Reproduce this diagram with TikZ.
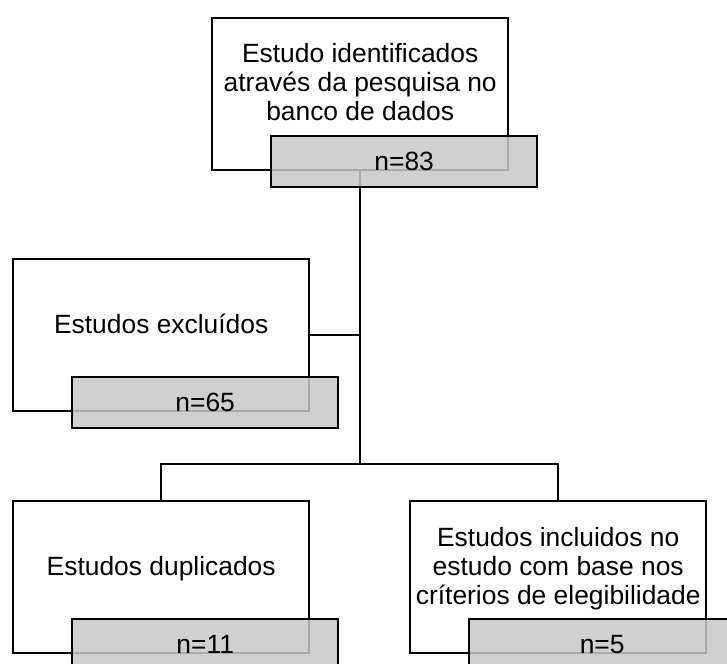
\documentclass[tikz,border=0pt]{standalone}
\usepackage{fontspec}
\setmainfont{Liberation Sans}
\usetikzlibrary{calc}
\definecolor{boxgray}{RGB}{200,200,200}
\newcommand\bigfont{\fontsize{26.4}{29}\selectfont}
\begin{document}
\begin{tikzpicture}[x=1pt,y=-1pt,
  whitebox/.style={draw,line width=2.4pt,fill=white,minimum width=296pt,minimum height=152pt,inner sep=0pt,anchor=north west},
  graybox/.style={draw,line width=2.4pt,fill=boxgray,fill opacity=0.85,text opacity=1,minimum width=266pt,minimum height=51pt,inner sep=0pt,anchor=north west,font=\bigfont},
  boxtext/.style={align=center,anchor=base,inner sep=0pt,font=\bigfont},
  conn/.style={line width=2.4pt}]
\useasboundingbox (0,0) rectangle (727,663);
\clip (0,0) rectangle (727,663);
% white boxes
\node[whitebox] (top) at (211,17) {};
\node[whitebox] (excl) at (12,258) {};
\node[whitebox] (dup) at (12,500) {};
\node[whitebox] (incl) at (409,500) {};
% texts (base anchor = baseline of the last line)
\node[boxtext] (toptxt) at ($(top.north)+(0,104)$) {Estudo identificados\\através da pesquisa no\\banco de dados};
\node[boxtext] (excltxt) at ($(excl.north)+(0,75)$) {Estudos excluídos};
\node[boxtext] (duptxt) at ($(dup.north)+(0,75)$) {Estudos duplicados};
\node[boxtext] (incltxt) at ($(incl.north)+(0,104)$) {Estudos incluidos no\\estudo com base nos\\críterios de elegibilidade};
% connectors
\coordinate (junction) at (top.south |- 0,464);
\coordinate (left) at (dup.north |- junction);
\coordinate (right) at (incl.north |- junction);
\draw[conn] (top.south) -- (junction);
\draw[conn] (excl.east) -- (excl.east -| top.south);
\draw[conn] (dup.north) -- (left) -- (right) -- (incl.north);
% gray boxes
\node[graybox] (topn) at ($(top.north west)+(59,118)$) {n=83};
\node[graybox] (excln) at ($(excl.north west)+(59,118)$) {n=65};
\node[graybox] (dupn) at ($(dup.north west)+(59,118)$) {n=11};
\node[graybox] (incln) at ($(incl.north west)+(59,118)$) {n=5};
\end{tikzpicture}
\end{document}
